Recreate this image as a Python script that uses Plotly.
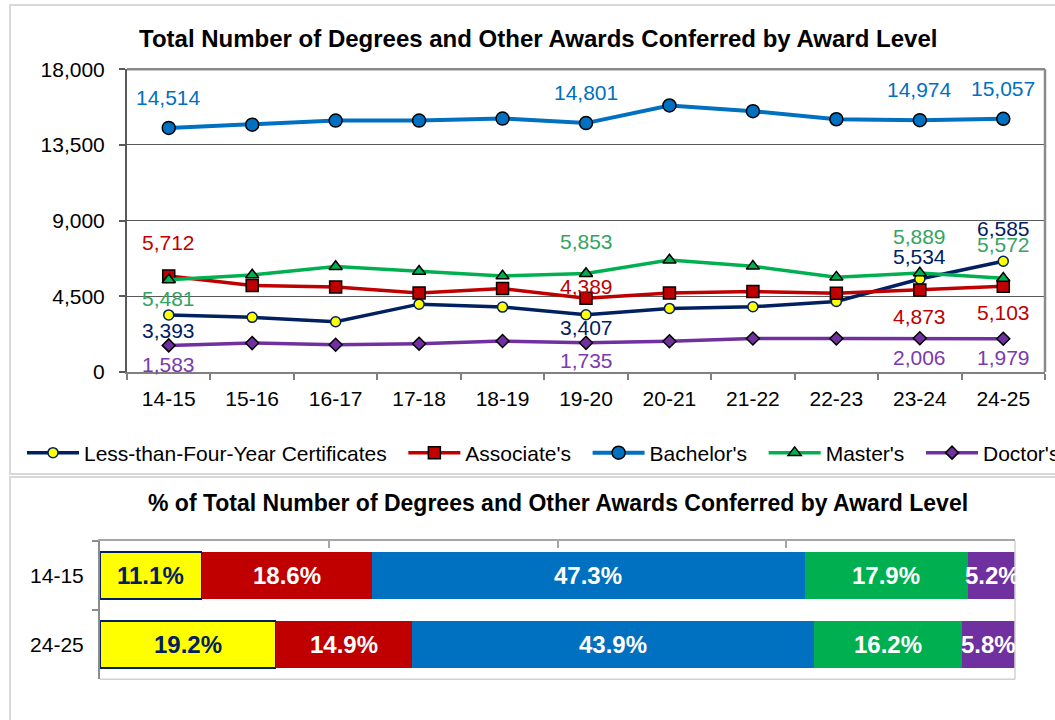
import plotly.graph_objects as go

# ---------------- data ----------------
years = ["14-15", "15-16", "16-17", "17-18", "18-19", "19-20",
         "20-21", "21-22", "22-23", "23-24", "24-25"]
certs = [3393, 3250, 2990, 4035, 3860, 3407, 3780, 3880, 4190, 5534, 6585]
assoc = [5712, 5140, 5060, 4700, 4960, 4389, 4700, 4780, 4680, 4873, 5103]
bach = [14514, 14710, 14950, 14950, 15070, 14801, 15850, 15510, 15030, 14974, 15057]
mast = [5481, 5770, 6270, 5990, 5710, 5853, 6660, 6290, 5640, 5889, 5572]
doct = [1583, 1720, 1620, 1680, 1840, 1735, 1830, 1990, 1990, 2006, 1979]

series_names = ["Less-than-Four-Year Certificates", "Associate's",
                "Bachelor's", "Master's", "Doctor's"]
y_ticks = [0, 4500, 9000, 13500, 18000]
labeled_idx = [0, 5, 9, 10]

pct_years = ["14-15", "24-25"]
pct_certs = [11.1, 19.2]
pct_assoc = [18.6, 14.9]
pct_bach = [47.3, 43.9]
pct_mast = [17.9, 16.2]
pct_doct = [5.2, 5.8]

title_top = "Total Number of Degrees and Other Awards Conferred by Award Level"
title_bot = "% of Total Number of Degrees and Other Awards Conferred by Award Level"

# ---------------- styles ----------------
FONT = "Arial, Liberation Sans, sans-serif"
NAVY, RED, BLUE, GREEN, PURPLE, YELLOW = "#002060", "#C00000", "#0070C0", "#00B050", "#7030A0", "#FFFF00"
label_colors = [NAVY, RED, BLUE, "#35A462", "#7B3AAE"]
# vertical pixel offsets of the data labels (per series, per labelled point)
label_shift = [
    [-16, -13, 22, 33],
    [33, 12, -26, -26],
    [30, 31, 31, 30],
    [-19, 32, 36, 34],
    [-19, -18, -19, -19],
]

W, H = 1055, 720
def px(v):
    return v / W
def py(v):
    return 1 - v / H

fig = go.Figure()

all_series = [certs, assoc, bach, mast, doct]
line_colors = [NAVY, RED, BLUE, GREEN, PURPLE]
line_widths = [3.5, 3.5, 4, 3.5, 3.5]
markers = [
    dict(symbol="circle", size=10, color=YELLOW, line=dict(color=NAVY, width=1.5)),
    dict(symbol="square", size=12, color=RED, line=dict(color="#000000", width=1.5)),
    dict(symbol="circle", size=13, color=BLUE, line=dict(color="#000000", width=1.5)),
    dict(symbol="triangle-up", size=11.5, color=GREEN, line=dict(color="#000000", width=1.5)),
    dict(symbol="diamond", size=10, color=PURPLE, line=dict(color="#000000", width=1.5)),
]
for i, (vals, name) in enumerate(zip(all_series, series_names)):
    disp = name + ("\u00a0\u00a0" if i < len(series_names) - 1 else "")
    fig.add_trace(go.Scatter(
        x=years, y=vals, name=disp, mode="lines+markers",
        line=dict(color=line_colors[i], width=line_widths[i]),
        marker=markers[i], xaxis="x", yaxis="y", hoverinfo="x+y",
        cliponaxis=False,
    ))

annotations = []
for i, vals in enumerate(all_series):
    for k, idx in enumerate(labeled_idx):
        annotations.append(dict(
            x=years[idx], y=vals[idx], xref="x", yref="y",
            text=f"{vals[idx]:,}", showarrow=False,
            yshift=label_shift[i][k], xanchor="center", yanchor="middle",
            font=dict(family=FONT, size=21, color=label_colors[i]),
        ))

# ---------------- bottom stacked bars ----------------
pct_series = [pct_certs, pct_assoc, pct_bach, pct_mast, pct_doct]
bar_colors = [YELLOW, RED, BLUE, GREEN, PURPLE]
text_colors = [NAVY, "white", "white", "white", "white"]
for i, vals in enumerate(pct_series):
    fig.add_trace(go.Bar(
        y=pct_years, x=vals, orientation="h", xaxis="x2", yaxis="y2",
        marker=dict(color=bar_colors[i],
                    line=dict(color=NAVY if i == 0 else bar_colors[i], width=1.5 if i == 0 else 0)),
        textposition="none", hoverinfo="x+y",
        showlegend=False, name=series_names[i],
    ))

# segment labels, centred on each stacked segment
for r, yr in enumerate(pct_years):
    start = 0.0
    for i, vals in enumerate(pct_series):
        v = vals[r]
        annotations.append(dict(
            x=start + v / 2, y=yr, xref="x2", yref="y2", text=f"<b>{v:.1f}%</b>",
            showarrow=False, xanchor="center", yanchor="middle",
            font=dict(family=FONT, size=24, color=text_colors[i]),
        ))
        start += v

annotations.append(dict(text=f"<b>{title_top}</b>", x=px(537.5), y=py(38), xref="paper", yref="paper",
                        showarrow=False, xanchor="center", yanchor="middle",
                        font=dict(family=FONT, size=24, color="black")))
annotations.append(dict(text=f"<b>{title_bot}</b>", x=px(558), y=py(502.7), xref="paper", yref="paper",
                        showarrow=False, xanchor="center", yanchor="middle",
                        font=dict(family=FONT, size=23, color="black")))

shapes = [
    # outer frames
    dict(type="rect", xref="paper", yref="paper", x0=px(10), x1=1.02, y0=py(474), y1=py(5),
         line=dict(color="#D9D9D9", width=2), fillcolor="rgba(0,0,0,0)", layer="below"),
    dict(type="rect", xref="paper", yref="paper", x0=px(10), x1=1.02, y0=-0.05, y1=py(477),
         line=dict(color="#D9D9D9", width=2), fillcolor="rgba(0,0,0,0)", layer="below"),
    # top chart top & right borders
    dict(type="line", xref="x domain", yref="y domain", x0=0, x1=1, y0=1, y1=1,
         line=dict(color="#8A8A8A", width=2.5)),
    dict(type="line", xref="x domain", yref="y domain", x0=1, x1=1, y0=0, y1=1,
         line=dict(color="#8A8A8A", width=2.5)),
    # bottom chart right & bottom borders
    dict(type="line", xref="x2 domain", yref="y2 domain", x0=1, x1=1, y0=0, y1=1,
         line=dict(color="#D0D0D0", width=1.5)),
    dict(type="line", xref="x2 domain", yref="y2 domain", x0=0, x1=1, y0=0, y1=0,
         line=dict(color="#D0D0D0", width=1.5)),
]

fig.update_layout(
    width=W, height=H, margin=dict(l=0, r=0, t=0, b=0, autoexpand=False),
    paper_bgcolor="white", plot_bgcolor="white",
    font=dict(family=FONT, size=21, color="black"),
    barmode="stack", bargap=0.32,
    xaxis=dict(domain=[px(127), px(1045)], type="category", range=[-0.5, 10.5],
               tickson="boundaries", ticks="outside", ticklen=6, tickwidth=1.5, tickcolor="#808080",
               showline=True, linecolor="#808080", linewidth=2, showgrid=False, automargin=False,
               ticklabelstandoff=7, tickfont=dict(size=21), anchor="y", fixedrange=True),
    yaxis=dict(domain=[py(372), py(69.3)], range=[0, 18000], tickvals=y_ticks,
               tickformat=",", ticks="outside", ticklen=6, tickwidth=1.5, tickcolor="#595959",
               showline=True, linecolor="#595959", linewidth=2, automargin=False,
               showgrid=True, gridcolor="#5A5A5A", gridwidth=1, zeroline=False,
               ticklabelstandoff=10, tickfont=dict(size=21), anchor="x", fixedrange=True),
    xaxis2=dict(domain=[px(100), px(1015)], range=[0, 100], side="top", anchor="y2",
                tickvals=[25, 50, 75], ticks="inside", ticklen=7, tickwidth=1.5, tickcolor="#A6A6A6",
                showticklabels=False, showline=True, linecolor="#A6A6A6", linewidth=2,
                showgrid=False, zeroline=False, fixedrange=True, automargin=False),
    yaxis2=dict(domain=[py(679.3), py(540.7)], type="category", categoryorder="array",
                categoryarray=pct_years, autorange="reversed", anchor="x2",
                tickson="boundaries", ticks="outside", ticklen=6, tickwidth=1.5, tickcolor="#8C8C8C",
                showline=True, linecolor="#8C8C8C", linewidth=2, showgrid=False, automargin=False,
                ticklabelstandoff=10, tickfont=dict(size=21), fixedrange=True),
    legend=dict(orientation="h", x=px(22), y=py(453), xanchor="left", yanchor="middle",
                font=dict(family=FONT, size=21, color="black"), itemwidth=52,
                bgcolor="rgba(0,0,0,0)", traceorder="normal"),
    annotations=annotations, shapes=shapes,
)

fig.write_html("out.html", config={"displayModeBar": False},
               post_script="document.body.style.margin='0';")
